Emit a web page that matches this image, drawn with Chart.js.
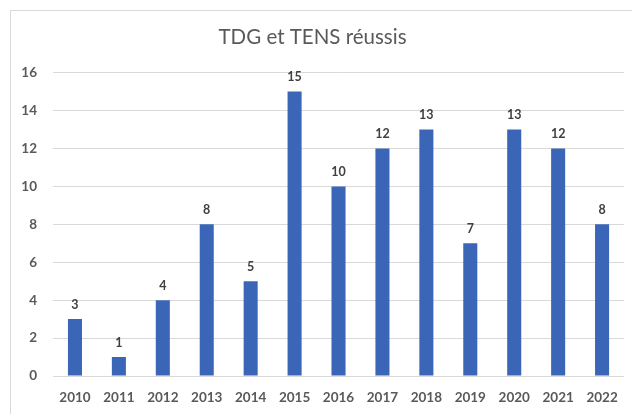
<!DOCTYPE html>
<html><head><meta charset="utf-8">
<script src="https://cdn.jsdelivr.net/npm/chart.js@4"></script>
<style>
html,body{margin:0;padding:0;background:#fff;}
#wrap{position:relative;width:632px;height:414px;}
#frame{position:absolute;left:10px;top:10px;width:640px;height:420px;border:1px solid #d9d9d9;box-sizing:border-box;}
canvas{position:absolute;left:0;top:0;}
</style></head>
<body>
<div id="wrap"><div id="frame"></div><canvas id="c" width="632" height="414"></canvas></div>
<script>
const categories = ['2010','2011','2012','2013','2014','2015','2016','2017','2018','2019','2020','2021','2022'];
const values = [3,1,4,8,5,15,10,12,13,7,13,12,8];
const titleText = 'TDG et TENS réussis';

const labelPlugin = {
  id: 'valLabels',
  afterDatasetsDraw(chart) {
    const ctx = chart.ctx;
    const meta = chart.getDatasetMeta(0);
    ctx.save();
    ctx.font = 'bold 12.5px Lato, "Open Sans", sans-serif';
    ctx.fillStyle = '#404040';
    ctx.textAlign = 'center';
    ctx.textBaseline = 'bottom';
    meta.data.forEach((bar, i) => {
      ctx.fillText(String(values[i]), bar.x, bar.y - 8);
    });
    ctx.restore();
  }
};

new Chart(document.getElementById('c'), {
  type: 'bar',
  data: {
    labels: categories,
    datasets: [{
      data: values,
      backgroundColor: '#3B66B8',
      borderWidth: 0,
      barPercentage: 0.64,
      categoryPercentage: 0.5
    }]
  },
  options: {
    responsive: false,
    animation: false,
    devicePixelRatio: 1,
    layout: { padding: { left: 0, right: 7, top: 0, bottom: 0 } },
    plugins: {
      legend: { display: false },
      tooltip: { enabled: false },
      title: {
        display: true,
        text: titleText,
        color: '#595959',
        font: { family: 'Lato, "Open Sans", sans-serif', size: 20.5, weight: 'normal' },
        padding: { top: 25, bottom: 23 }
      }
    },
    scales: {
      x: {
        grid: { display: false, drawTicks: false },
        border: { display: false },
        ticks: { color: '#595959', font: { family: 'Lato, "Open Sans", sans-serif', size: 13.5, weight: 'bold' }, padding: 14, maxRotation: 0 },
        afterFit(s) { s.height = 38; }
      },
      y: {
        min: 0, max: 16,
        grid: { color: '#d9d9d9', drawTicks: false, lineWidth: 1 },
        border: { display: false },
        ticks: { stepSize: 2, color: '#595959', font: { family: 'Lato, "Open Sans", sans-serif', size: 13.5, weight: 'bold' }, padding: 16 },
        afterFit(s) { s.width = 53; }
      }
    }
  },
  plugins: [labelPlugin]
});
</script>
</body></html>
